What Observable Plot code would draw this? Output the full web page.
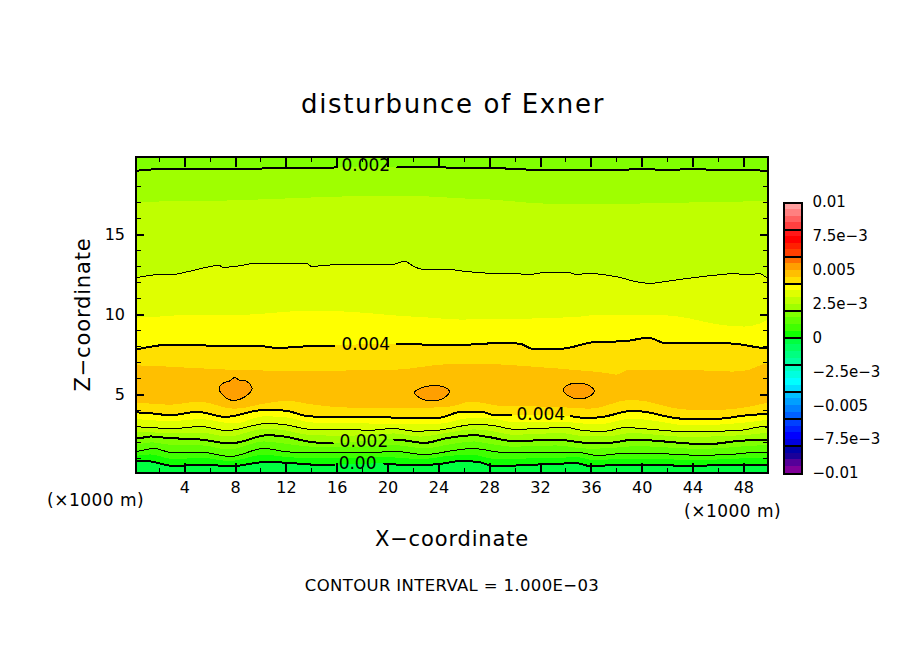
<!DOCTYPE html>
<html><head><meta charset="utf-8">
<script src="https://cdn.jsdelivr.net/npm/d3@7"></script>
<script src="https://cdn.jsdelivr.net/npm/@observablehq/plot@0.6"></script>
<style>
html,body{margin:0;padding:0;background:#fff;overflow:hidden}
#page{position:relative;width:904px;height:654px;overflow:hidden;font-family:"DejaVu Sans",sans-serif;color:#000}
#page svg{position:absolute;background:transparent;shape-rendering:crispEdges}
.t{position:absolute;white-space:nowrap;line-height:1}
</style></head><body><div id="page"></div>
<script>
const xMin = 0.165, xMax = 49.9, zMin = 0.11, zMax = 19.84;
const titleText = "disturbunce of Exner";
const xTicks = [4,8,12,16,20,24,28,32,36,40,44,48];
const xMinor = [2,6,10,14,18,22,26,30,34,38,42,46];
const zTicks = [5,10,15];
const zMinor = [1,2,3,4,6,7,8,9,11,12,13,14,16,17,18,19];

// contours and colour-band boundaries (x in km, z in km)
const topX = [0.2,2,4,6,8,10,12,14,16,18,20,22,24,26,28,30,32,34,36,38,40,42,44,46,48,49.9];
const c002upZ = [18.99,19.09,19.09,19.12,19.09,19.12,19.16,19.16,19.19,19.19,19.19,19.19,19.19,19.16,19.16,19.09,19.03,19.03,19.03,19.03,19.09,19.03,19.09,19.03,19.03,18.97];
const b0025upZ = [17.03,17.03,17.04,17.06,17.11,17.16,17.22,17.28,17.33,17.38,17.39,17.38,17.31,17.22,17.16,17.03,16.91,16.88,16.86,16.86,16.91,16.95,16.97,17.01,17.03,17.05];
const c003upX = [0.2,1.24,2.56,3.08,4.13,5.71,6.7,7.02,7.8,9.65,13.58,13.98,15.16,16.46,20.4,21.32,21.98,22.64,24.47,26.05,28.02,31.43,32.35,34.18,34.97,35.5,36.28,37.99,39.83,40.61,42.19,43.76,45.6,47.17,48.23,49.28,49.8];
const c003upZ = [12.33,12.45,12.53,12.51,12.66,12.95,13.08,12.95,12.99,13.2,13.2,13.01,13.08,13.14,13.14,13.33,13.03,12.84,12.84,12.7,12.58,12.53,12.64,12.64,12.47,12.58,12.55,12.36,12.01,11.95,12.11,12.28,12.45,12.55,12.51,12.55,12.33];
const b0035upX = [0.14,4.95,8.88,12.27,14.39,18.02,20.69,23.29,25.65,31.17,35.1,36.68,40.62,42.98,44.55,46.13,48.1,49.28,49.9];
const b0035upZ = [9.78,9.97,9.97,10.16,10.22,10.09,9.91,9.78,9.66,9.72,9.84,9.97,9.97,9.84,9.59,9.34,9.22,9.41,9.66];
const c004upX = [0.2,0.98,2.56,4.92,7.28,9.65,11.48,12.8,15.65,20.69,25.65,27.23,28.8,30.38,31.4,33.53,36.42,38.49,40.48,41.93,45.6,47.31,49.8];
const c004upZ = [7.84,7.95,8.11,8.09,8.03,8.05,7.91,7.99,8.05,8.16,8.11,8.16,8.24,8.18,7.86,7.86,8.3,8.33,8.55,8.2,8.24,8.18,7.91];
const b0045upX = [0.2,3.61,7.54,11.48,15.42,20.69,24.87,27.46,31.4,35.34,37.07,38.02,39.04,43.21,47.15,48.49,49.83];
const b0045upZ = [6.8,6.68,6.53,6.47,6.47,6.53,6.88,6.89,6.72,6.47,6.34,6.22,6.53,6.53,6.41,6.53,6.91];
const b0045loX = [0.14,2.82,5.18,7.94,10.3,12.03,14.24,16.99,23.29,24.87,26.6,29.2,33.13,35.89,39.2,43.6,46.28,49.9];
const b0045loZ = [4.47,4.34,4.53,4.09,4.41,4.59,4.34,4.16,4.16,4.22,4.53,4.25,4.22,4.09,4.66,4.03,4.03,4.47];
const c004loX = [0.2,1.3,2.87,4.97,7.2,10.22,11.8,13.9,16.6,18.57,21.56,23.92,25.79,27.36,28.41,29.67,34.39,35.76,37.07,39.17,40.22,42.32,43.63,46.26,47.83,49.67];
const c004loZ = [3.89,3.84,3.72,3.93,3.61,4.05,4.01,3.64,3.61,3.61,3.55,3.55,3.93,3.93,3.72,3.72,3.66,3.53,3.64,3.99,3.93,3.58,3.47,3.51,3.68,3.78];
const b0035loX = [0.14,2.82,5.18,7.94,10.3,12.03,14.24,17,21.5,24,26.6,28,30,34,36,37.1,39.2,40.8,43.6,46,48,49.9];
const b0035loZ = [3.45,3.3,3.45,3.17,3.62,3.55,3.22,3.2,3.12,3.15,3.52,3.5,3.25,3.28,3.12,3.16,3.48,3.36,3.06,3.1,3.22,3.4];
const c003loX = [0.2,1.56,3.13,5.24,7.33,10.48,11.8,13.9,16.6,18.57,20.4,22.11,23.94,26.83,28.15,29.98,34.06,35.5,37.07,38.65,40.75,43.63,45.99,47.83,49.41,49.9];
const c003loZ = [2.99,2.93,2.89,3.01,2.76,3.2,3.14,2.84,2.83,2.78,2.89,2.72,2.78,3.14,3.09,2.84,2.95,2.74,2.72,2.95,2.83,2.68,2.72,2.78,2.99,2.97];
const b0025loX = [0.14,2.6,5.3,7.4,10.4,11.8,13.9,17,20.5,22.6,24.2,26.8,28,30,33.5,35.7,37.2,39.3,41,44,46,48,49.9];
const b0025loZ = [2.62,2.6,2.6,2.36,2.84,2.76,2.45,2.4,2.55,2.35,2.52,2.8,2.72,2.46,2.58,2.36,2.36,2.58,2.47,2.31,2.38,2.44,2.6];
const c002loX = [0.2,1.3,2.6,5.5,7.33,8.12,10.48,11.8,13.9,15.74,20.54,22.9,24.47,26.83,27.88,29.98,33.13,35.76,37.33,39.43,41.53,44.42,45.47,47.31,49.67];
const c002loZ = [2.26,2.39,2.3,2.18,1.97,2.01,2.47,2.39,2.05,1.95,2.2,1.99,2.26,2.47,2.36,2.09,2.2,1.99,1.99,2.2,2.09,1.93,1.93,2.09,2.2];
const b0015loX = [0.14,1.5,3,5.4,7.5,10.3,12,14,16.6,20.5,22.9,25,26.8,28,30,33.2,35.8,37.4,39.4,41.5,44.4,46.7,49.6];
const b0015loZ = [1.86,2.0,1.82,1.8,1.55,2.05,1.9,1.72,1.68,1.82,1.62,1.88,2.05,1.9,1.72,1.8,1.6,1.62,1.76,1.7,1.58,1.66,1.82];
const c001loX = [0.2,1.56,3.13,5.24,7.6,10.22,12.33,16.6,18.96,20.4,22.9,25.27,26.58,29.44,33.13,34.95,36.52,38.39,41,44.4,46.76,49.41];
const c001loZ = [1.47,1.64,1.36,1.42,1.14,1.64,1.42,1.42,1.39,1.47,1.26,1.53,1.64,1.36,1.39,1.39,1.2,1.32,1.32,1.22,1.26,1.42];
const b0005loX = [0.14,1.3,3.1,5.4,7.6,10.3,12,14,16.6,20,22.5,25,26.6,28.4,33,35,36.3,38.4,42,44.3,46.6,49.9];
const b0005loZ = [1.15,1.24,0.95,1.02,0.83,1.22,1.08,1.0,1.0,1.08,0.94,1.16,1.22,0.96,1.02,1.06,0.86,0.98,0.94,0.87,0.95,1.05];
const c000X = [0.2,0.98,3.13,5.5,7.6,10.48,11.8,13.9,15.74,19.7,21.9,23.9,25.79,27.1,28.41,31.78,33.13,34.7,36,38.39,42.04,44.18,46.26,49.41];
const c000Z = [0.84,0.86,0.55,0.64,0.53,0.8,0.76,0.64,0.59,0.7,0.59,0.66,0.86,0.8,0.53,0.64,0.66,0.74,0.53,0.64,0.59,0.53,0.64,0.64];
const blob1X = [6.7,6.98,7.54,7.94,8.28,8.86,9.3,8.72,7.94,7.41,6.89];
const blob1Z = [5.33,5.7,5.86,6.08,5.91,5.84,5.39,4.86,4.64,4.72,5.07];
const blob2X = [22.06,22.5,23.29,24.08,24.81,24.47,23.55,22.76,22.29];
const blob2Z = [5.11,5.39,5.55,5.55,5.24,4.83,4.61,4.7,4.91];
const blob3X = [33.79,34.1,34.84,35.63,36.23,35.89,34.97,34.18,33.84];
const blob3Z = [5.34,5.59,5.72,5.64,5.24,4.91,4.74,4.93,5.18];

const labelText = ["0.002","0.004","0.004","0.002","0.00"];
const labelX = [18.25,18.25,32.02,18.1,17.6];
const labelZ = [19.3,8.1,3.75,2.09,0.69];

const topColor = "#80ff00";
const fillOrder = [
  [topX,c002upZ,"#9fff00"],[topX,b0025upZ,"#bfff00"],[c003upX,c003upZ,"#dfff00"],
  [b0035upX,b0035upZ,"#ffff00"],[c004upX,c004upZ,"#ffdf00"],[b0045upX,b0045upZ,"#ffbf00"],
  [b0045loX,b0045loZ,"#ffdf00"],[c004loX,c004loZ,"#ffff00"],[b0035loX,b0035loZ,"#dfff00"],
  [c003loX,c003loZ,"#bfff00"],[b0025loX,b0025loZ,"#9fff00"],[c002loX,c002loZ,"#80ff00"],
  [b0015loX,b0015loZ,"#60ff00"],[c001loX,c001loZ,"#40ff00"],[b0005loX,b0005loZ,"#10ff00"],
  [c000X,c000Z,"#00ff40"]
];
const contourOrder = [
  [topX,c002upZ,2,[15.95,20.7]],[c003upX,c003upZ,1,null],[c004upX,c004upZ,2,[15.75,20.7]],
  [c004loX,c004loZ,2,[29.67,34.39]],[c003loX,c003loZ,1,null],[c002loX,c002loZ,2,[15.65,20.5]],
  [c001loX,c001loZ,1,null],[c000X,c000Z,2,[15.74,19.7]]
];

// colour-bar swatches, top to bottom
const barColors = ["#ff9f9f","#ff8080","#ff6060","#ff4040","#ff1818","#ff0000","#ff2000","#ff4000",
  "#ff7000","#ff9f00","#ffbf00","#ffdf00","#ffff00","#dfff00","#bfff00","#9fff00",
  "#80ff00","#60ff00","#40ff00","#10ff00","#00ff40","#00ff60","#00ff80","#00ff9f",
  "#00ffbf","#00ffdf","#00ffff","#00dfff","#00bfff","#009fff","#0080ff","#0060ff",
  "#0040ff","#0020ff","#0000ff","#0000df","#0000a8","#1a0099","#550099","#800099"];
const barTicks = [0.01,0.0075,0.005,0.0025,0,-0.0025,-0.005,-0.0075,-0.01];
const barLabels = ["0.01","7.5e\u22123","0.005","2.5e\u22123","0","\u22122.5e\u22123","\u22120.005","\u22127.5e\u22123","\u22120.01"];
const barDividers = [0.008,0.006,0.004,0.002,0,-0.002,-0.004,-0.006,-0.008];

function rows(xs, zs, gap) {
  const out = xs.map((x,i)=>({x, z: zs[i]}));
  out.unshift({x: xMin, z: zs[0]});
  out.push({x: xMax, z: zs[zs.length-1]});
  if (!gap) return out;
  const at = v => {
    const i = out.findIndex(d => d.x >= v);
    const a = out[Math.max(i-1,0)], b = out[i];
    return {x: v, z: a.z + (b.z-a.z)*(v-a.x)/((b.x-a.x)||1)};
  };
  const kept = out.filter(d => d.x < gap[0] || d.x > gap[1]);
  kept.push(at(gap[0]), at(gap[1]), {x:(gap[0]+gap[1])/2, z: NaN});
  return kept.sort((a,b)=>a.x-b.x);
}
const blobRows = (xs,zs)=>xs.map((x,i)=>({x,z:zs[i]}));

const main = Plot.plot({
  width: 904, height: 654,
  marginLeft: 135.5, marginRight: 136.5, marginTop: 156.5, marginBottom: 181.5,
  style: {fontFamily: '"DejaVu Sans",sans-serif', color:"#000", background:"transparent"},
  x: {domain:[xMin,xMax]},
  y: {domain:[zMin,zMax]},
  marks: [
    Plot.frame({fill: topColor, stroke:null}),
    ...fillOrder.map(([xs,zs,c]) => Plot.areaY(rows(xs,zs), {x:"x", y1:()=>zMin, y2:"z", fill:c, clip:true, curve:"monotone-x"})),
    ...[blob1X,blob2X,blob3X].map((xs,i)=>Plot.line(blobRows(xs,[blob1Z,blob2Z,blob3Z][i]),{x:"x",y:"z",fill:"#ff9f00",stroke:"#000",strokeWidth:1,curve:"catmull-rom-closed"})),
    ...contourOrder.map(([xs,zs,w,gap]) => Plot.line(rows(xs,zs,gap), {x:"x", y:"z", stroke:"#000", strokeWidth:w, clip:true, curve:"monotone-x"})),
    Plot.ruleX(xTicks,{x:d=>d,insetBottom:306,strokeWidth:2}),
    Plot.ruleX(xTicks,{x:d=>d,insetTop:306,strokeWidth:2}),
    Plot.ruleX(xMinor,{x:d=>d,insetBottom:311,strokeWidth:1}),
    Plot.ruleX(xMinor,{x:d=>d,insetTop:311,strokeWidth:1}),
    Plot.ruleY(zTicks,{y:d=>d,insetRight:624,strokeWidth:2}),
    Plot.ruleY(zTicks,{y:d=>d,insetLeft:624,strokeWidth:2}),
    Plot.ruleY(zMinor,{y:d=>d,insetRight:627,strokeWidth:1}),
    Plot.ruleY(zMinor,{y:d=>d,insetLeft:627,strokeWidth:1}),
    Plot.text(labelText.map((t,i)=>({t,x:labelX[i],z:labelZ[i]})),{x:"x",y:"z",text:"t",fontSize:17,fill:"#000"}),
    Plot.frame({stroke:"#000",strokeWidth:2}),
    Plot.axisX({ticks:xTicks,tickSize:0,tickPadding:9,fontSize:16,label:null,tickFormat:d=>d}),
    Plot.axisY({ticks:zTicks,tickSize:0,tickPadding:11,fontSize:16,label:null,tickFormat:d=>d})
  ]
});
main.style.left="0";main.style.top="0";

const barEdges = barColors.map((c,i)=>({c,y2:0.01-i*0.0005,y1:0.01-(i+1)*0.0005}));
const bar = Plot.plot({
  width: 120, height: 654,
  marginLeft: 1, marginRight: 101, marginTop: 202, marginBottom: 181,
  style: {fontFamily: '"DejaVu Sans",sans-serif', color:"#000", background:"transparent"},
  x: {axis:null},
  y: {domain:[-0.01,0.01]},
  marks: [
    Plot.rectY(barEdges,{y1:"y1",y2:"y2",fill:"c"}),
    Plot.ruleY(barDividers,{y:d=>d,stroke:"#000",strokeWidth:2}),
    Plot.frame({stroke:"#000",strokeWidth:2}),
    Plot.axisY({anchor:"right",ticks:barTicks,tickSize:0,tickPadding:11,fontSize:15,label:null,
      tickFormat:d=>barLabels[barTicks.indexOf(d)],textAnchor:"start"})
  ]
});
bar.style.left="782px";bar.style.top="0";

const page=document.getElementById("page");
page.append(main,bar);
function label(text,left,cy,size,spacing,center,rot){
  const d=document.createElement("div");d.className="t";d.textContent=text;
  d.style.fontSize=size+"px";d.style.letterSpacing=spacing+"px";
  d.style.top=(cy-size/2)+"px";
  if(center){d.style.left=left+"px";d.style.transform=`translateX(-50%)`+(rot?" rotate(-90deg)":"");}
  else d.style.left=left+"px";
  page.append(d);
}
label(titleText,453,104,26,1.65,true);
label("X\u2212coordinate",452,539,21,0.85,true);
label("Z\u2212coordinate",83,314,21,0.85,true,true);
label("(\u00d71000 m)",47,500,17,0.5,false);
label("(\u00d71000 m)",684,511,17,0.5,false);
label("CONTOUR INTERVAL = 1.000E\u221203",452,586,16.5,0.35,true);
</script></body></html>
